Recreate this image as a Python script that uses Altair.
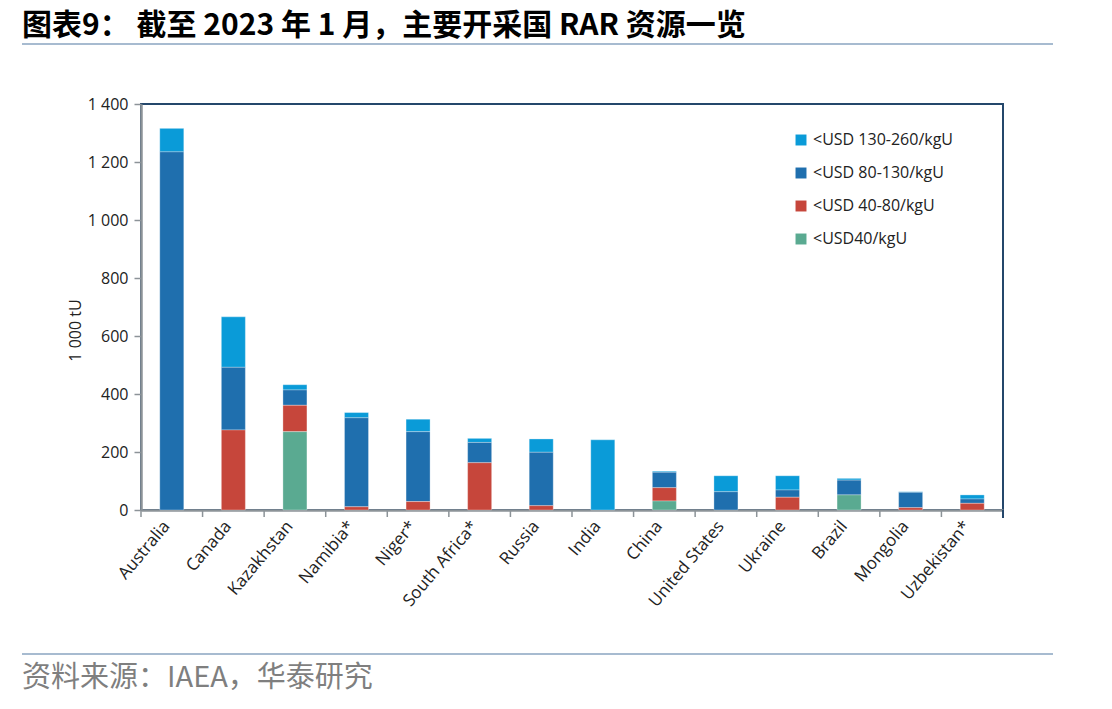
import altair as alt
import pandas as pd

countries = ["Australia", "Canada", "Kazakhstan", "Namibia*", "Niger*", "South Africa*",
             "Russia", "India", "China", "United States", "Ukraine", "Brazil",
             "Mongolia", "Uzbekistan*"]
usd40 = [0, 0, 270, 0, 0, 0, 0, 0, 31, 0, 0, 52, 0, 0]
usd40_80 = [0, 276, 91, 11, 29, 163, 15, 0, 46, 0, 44, 0, 8, 23]
usd80_130 = [1235, 216, 53, 307, 241, 70, 184, 0, 53, 63, 25, 51, 53, 15]
usd130_260 = [81, 174, 18, 18, 43, 14, 46, 242, 4, 55, 49, 6, 2, 14]
categories = ["<USD 130-260/kgU", "<USD 80-130/kgU", "<USD 40-80/kgU", "<USD40/kgU"]
colors = ["#0A9BD8", "#1F6FAE", "#C6463B", "#5AAA91"]

title_text = "图表9：  截至 2023 年 1 月，主要开采国 RAR 资源一览"
source_text = "资料来源：IAEA，华泰研究"

series = [usd130_260, usd80_130, usd40_80, usd40]
rows = []
for ci, (cat, vals) in enumerate(zip(categories, series)):
    for country, v in zip(countries, vals):
        if v > 0:
            rows.append({"country": country, "cat": cat, "value": v, "ord": 3 - ci})
df = pd.DataFrame(rows)

W, H = 862, 406
FONT = "Open Sans"
GRAY = "#8C9398"
NAVY = "#24476B"

x_scale = alt.Scale(paddingInner=0.61, paddingOuter=0.305)
x_axis = alt.Axis(title=None, labelAngle=-50, ticks=False, labelFontSize=17,
                  labelFont=FONT, labelColor="#222222", labelPadding=13,
                  labelOffset=-5, domainColor=GRAY, domainWidth=2.5)

bars = alt.Chart(df).mark_bar(stroke="white", strokeWidth=0.6, strokeOpacity=0.5).encode(
    x=alt.X("country:N", sort=countries, scale=x_scale, axis=x_axis),
    y=alt.Y("value:Q", stack="zero", scale=alt.Scale(domain=[0, 1400], nice=False),
            axis=alt.Axis(title="1 000 tU", values=[0, 200, 400, 600, 800, 1000, 1200, 1400],
                          labelExpr="replace(format(datum.value, ','), ',', ' ')",
                          labelFontSize=16, labelFont=FONT, labelColor="#222222",
                          labelPadding=6, tickColor=GRAY, tickSize=7, tickWidth=1.5,
                          domainColor=GRAY, domainWidth=2.5, grid=False,
                          titleFont=FONT, titleFontSize=16, titleFontWeight="normal",
                          titleColor="#222222", titleX=-66, titleY=226,
                          titleBaseline="middle", titleAlign="center")),
    color=alt.Color("cat:N", scale=alt.Scale(domain=categories, range=colors),
                    legend=alt.Legend(title=None, orient="none", legendX=652, legendY=28,
                                      symbolType="square", symbolSize=120,
                                      symbolStrokeWidth=0, labelFontSize=16,
                                      labelFont=FONT, labelColor="#222222",
                                      rowPadding=17, labelOffset=4)),
    order=alt.Order("ord:Q"),
)

ticks = alt.Chart(pd.DataFrame({"country": countries})).mark_rule(
    color=GRAY, strokeWidth=1.5, xOffset=-30.79
).encode(
    x=alt.X("country:N", sort=countries, scale=x_scale, axis=x_axis),
    y=alt.value(H), y2=alt.value(H + 7),
)

one = pd.DataFrame({"k": [0]})
end_tick = alt.Chart(one).mark_rule(color=NAVY, strokeWidth=2).encode(
    x=alt.value(W), y=alt.value(H), y2=alt.value(H + 8))

title = alt.Chart(one).mark_text(
    align="left", baseline="middle", font="Noto Sans CJK SC", fontWeight="bold",
    fontSize=30, color="#000000"
).encode(x=alt.value(-119), y=alt.value(-78), text=alt.value(title_text))

title_line = alt.Chart(one).mark_rule(color="#A7BBD0", strokeWidth=2).encode(
    x=alt.value(-119), x2=alt.value(912), y=alt.value(-60))

foot_line = alt.Chart(one).mark_rule(color="#A7BBD0", strokeWidth=2).encode(
    x=alt.value(-119), x2=alt.value(912), y=alt.value(550))

source = alt.Chart(one).mark_text(
    align="left", baseline="middle", font="Noto Sans CJK SC", fontSize=29,
    color="#7F7F7F"
).encode(x=alt.value(-119), y=alt.value(574), text=alt.value(source_text))

chart = alt.layer(bars, ticks, end_tick, title, title_line, foot_line, source).properties(
    width=W, height=H,
    autosize=alt.AutoSizeParams(type="none"),
    padding={"left": 141, "top": 104, "right": 109, "bottom": 199},
    background="white",
).configure_view(stroke=NAVY, strokeWidth=2)

chart.save("out.html", embed_options={"renderer": "svg", "actions": False})
